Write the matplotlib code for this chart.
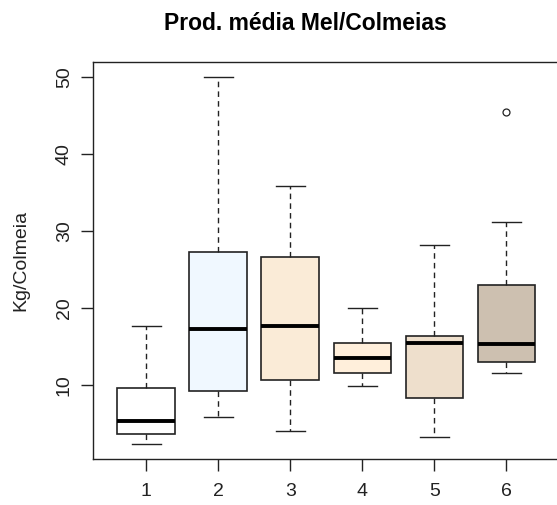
import numpy as np
import matplotlib
matplotlib.use("Agg")
import matplotlib.pyplot as plt

plt.rcParams['font.family'] = ['Liberation Sans', 'DejaVu Sans']

# box statistics (kg/colmeia)
grupos = ['1', '2', '3', '4', '5', '6']
whis_lo = [2.3, 5.9, 4.0, 9.9, 3.3, 11.5]
q1 = [3.6, 9.2, 10.7, 11.6, 8.3, 13.0]
medianas = [5.3, 17.3, 17.6, 13.45, 15.45, 15.3]
q3 = [9.6, 27.2, 26.6, 15.45, 16.3, 23.0]
whis_hi = [17.7, 50.0, 35.8, 20.0, 28.1, 31.2]
outliers = [[], [], [], [], [], [45.4]]
cores = ['#FFFFFF', '#F0F8FF', '#FAEBD7', '#FFEFDB', '#EEDFCC', '#CDC0B0']

stats = []
for i in range(len(grupos)):
    stats.append(dict(med=medianas[i], q1=q1[i], q3=q3[i],
                      whislo=whis_lo[i], whishi=whis_hi[i],
                      fliers=outliers[i], label=grupos[i]))

fig = plt.figure(figsize=(5.57, 5.05), dpi=100)
ax = fig.add_axes([93/557, 46/505, 466.6/557, 397/505])

pos = np.arange(1, len(grupos) + 1)
bp = ax.bxp(stats, positions=pos, widths=0.8, patch_artist=True,
            boxprops=dict(edgecolor='#222222', linewidth=1.2),
            medianprops=dict(color='black', linewidth=2.8, solid_capstyle='butt'),
            whiskerprops=dict(color='#222222', linewidth=1.0, linestyle=(0, (4, 3))),
            capprops=dict(color='#222222', linewidth=1.0),
            flierprops=dict(marker='o', markersize=5, markerfacecolor='none',
                            markeredgecolor='#222222', markeredgewidth=0.9),
            capwidths=0.4)
for patch, c in zip(bp['boxes'], cores):
    patch.set_facecolor(c)

# R style limits: 4% beyond data range
lo = min(whis_lo)
hi = max(max(whis_hi), max(sum(outliers, [])))
r = hi - lo
ax.set_ylim(lo - 0.04 * r, hi + 0.04 * r)
ax.set_xlim(0.5 - 0.04 * 6, 6.5 + 0.04 * 6)

ax.set_xticks(pos)
ax.set_xticklabels(grupos)
ax.set_yticks([10, 20, 30, 40, 50])
for lab in ax.get_yticklabels():
    lab.set_rotation(90)
    lab.set_va('center')
ax.tick_params(axis='both', length=8.5, width=1.0, colors='#222222',
               labelsize=14, labelcolor='#222222')
ax.tick_params(axis='x', pad=9)
ax.tick_params(axis='y', pad=6)
for s in ax.spines.values():
    s.set_color('#222222')
    s.set_linewidth(1.0)

ax.set_ylabel('Kg/Colmeia', fontsize=14, color='#222222', labelpad=19)
fig.text(305/557, 1 - 23/505, 'Prod. média Mel/Colmeias', ha='center', va='center',
         fontsize=16.5, fontweight='bold')

fig.savefig('out.png', dpi=100)
